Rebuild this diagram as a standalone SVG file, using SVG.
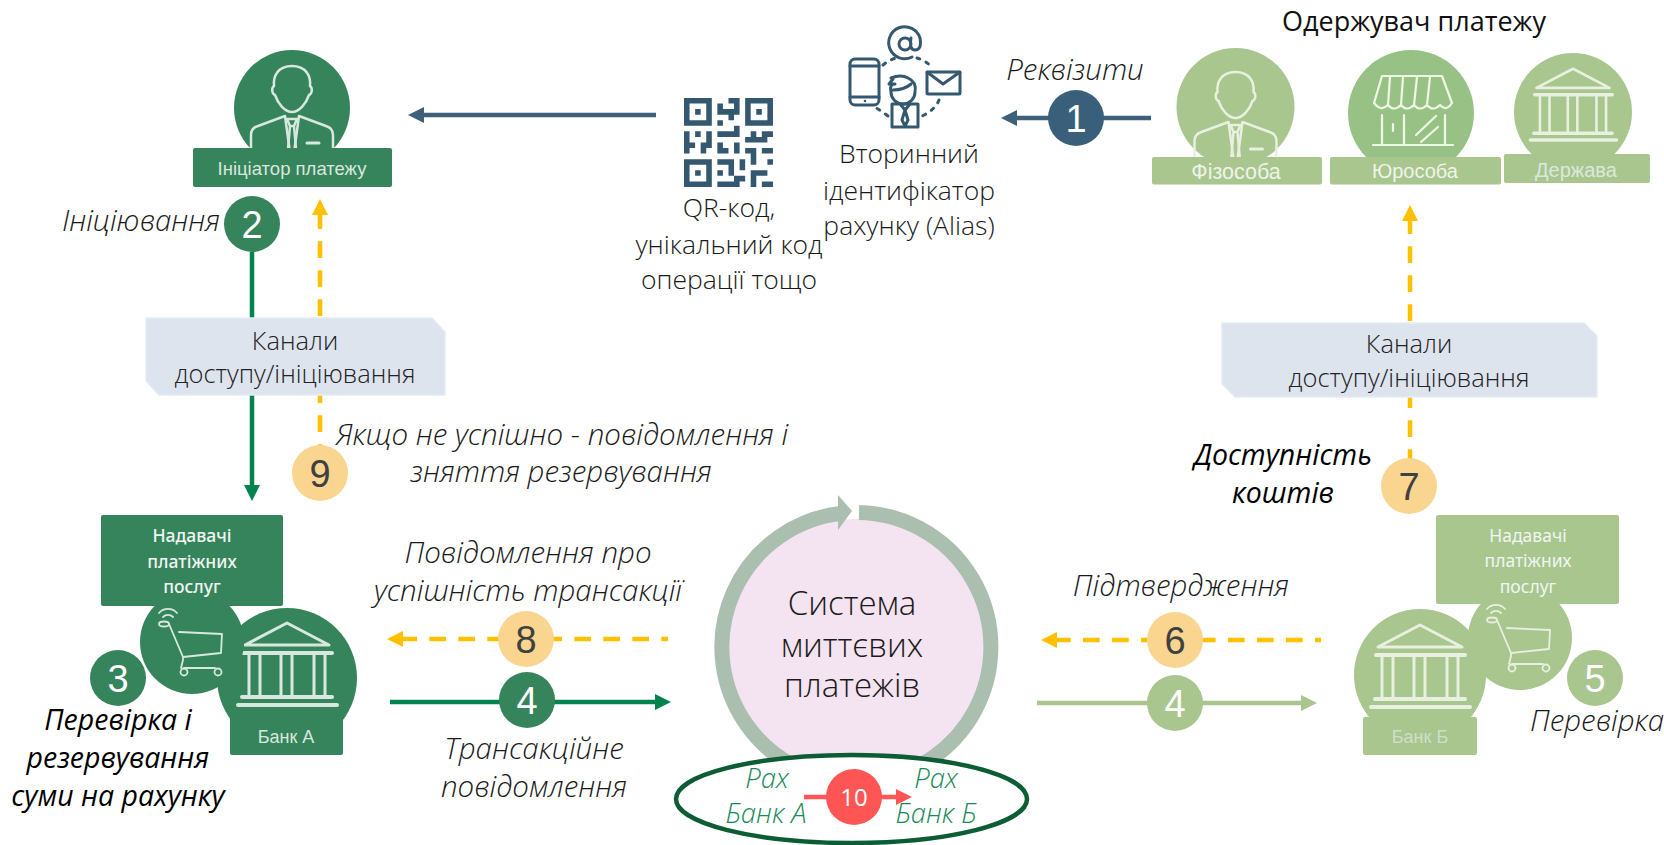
<svg xmlns="http://www.w3.org/2000/svg" xmlns:xlink="http://www.w3.org/1999/xlink" width="1664" height="845" viewBox="0 0 1664 845">
<style>
text{font-family:"Open Sans","Liberation Sans",sans-serif;fill:#1a1a1a;text-anchor:middle}
.l{font-weight:300}
.lbl{font-weight:300;font-style:italic;font-size:29.5px}
.bi{font-weight:500;font-style:italic;font-size:28.5px;fill:#000}
.main{font-weight:300;font-size:26.5px}
.ban{font-weight:300;font-size:25.5px;fill:#222}
.num{font-family:"Liberation Sans",sans-serif;font-size:38px;fill:#fff}
.num.o{fill:#404040}
.cap{font-family:"Liberation Sans",sans-serif;fill:#d8e8df}
.capl{font-family:"Liberation Sans",sans-serif;fill:#eef4e8}
.psp{font-family:"Noto Sans",sans-serif;font-size:17.5px;fill:#f0f6f2}
.gt{font-weight:300;font-style:italic;font-size:27.5px;fill:#1a8a58}
.dk{fill:#36845c}.lt{fill:#a9c68f}.yl{fill:#f9d58f}.bl{fill:#3a5f7a}
.ic{fill:none;stroke-linecap:round;stroke-linejoin:round}
.icd{stroke:#d8e8df}.icl{stroke:#e8f0e0}
.ln{fill:none;stroke-width:4.5}
.dash{stroke:#ffc000;stroke-dasharray:16.7 12.3}
.navy{fill:#34586f}
.navys{fill:none;stroke:#34586f;stroke-width:3;stroke-linecap:round;stroke-linejoin:round}
.banner{fill:#dde4ee;stroke:#e6ebf5;stroke-width:1.5}
</style>
<defs>
<marker id="hY" markerUnits="userSpaceOnUse" markerWidth="17" markerHeight="18" refX="0" refY="9" orient="auto" viewBox="0 0 17 18"><path d="M0 1L16 9L0 17z" fill="#ffc000"/></marker>
<marker id="hG" markerUnits="userSpaceOnUse" markerWidth="17" markerHeight="18" refX="0" refY="9" orient="auto" viewBox="0 0 17 18"><path d="M0 1L16 9L0 17z" fill="#00834f"/></marker>
<marker id="hL" markerUnits="userSpaceOnUse" markerWidth="17" markerHeight="18" refX="0" refY="9" orient="auto" viewBox="0 0 17 18"><path d="M0 1L16 9L0 17z" fill="#a9c68f"/></marker>
<marker id="hB" markerUnits="userSpaceOnUse" markerWidth="17" markerHeight="18" refX="0" refY="9" orient="auto" viewBox="0 0 17 18"><path d="M0 1L16 9L0 17z" fill="#3e6079"/></marker>
<marker id="hR" markerUnits="userSpaceOnUse" markerWidth="17" markerHeight="18" refX="0" refY="9" orient="auto" viewBox="0 0 17 18"><path d="M0 1L16 9L0 17z" fill="#ff5555"/></marker>
<g id="person" stroke-width="2.5">
<path d="M0-42C-14-42-19-32-18-22C-21-20-20-14-17-13C-14-4-7 4 0 4C7 4 14-4 17-13C20-14 21-20 18-22C19-32 14-42 0-42Z"/>
<path d="M-41 52V27Q-41 20-34 18L-7 8L-1 52M41 52V27Q41 20 34 18L7 8L1 52"/>
<path d="M-5 11H5L2 18H-2ZM-2 18L-5 52M2 18L5 52"/>
<path stroke-width="3" d="M15 35H27"/>
</g>
<g id="bank">
<path stroke-width="3" d="M0-52L-42-30H42Z"/>
<path stroke-width="4" d="M-44-22H45M-45 22H45M-49 30H50"/>
<path stroke-width="3" d="M-38-20V20M-27-20V20M-6-20V20M5-20V20M27-20V20M38-20V20"/>
</g>
<g id="cart" stroke-width="1.8">
<path d="M-33-29A12 12 0 0 1-15-29M-29-25A7 7 0 0 1-19-25"/>
<ellipse cx="-28" cy="-18" rx="5" ry="2.5"/>
<path d="M-23-18L-9 15L-9 18L-11 26M-13-10L30-8L29 11L-9 15M-8 26H23"/>
<circle cx="-8" cy="30" r="3.5"/><circle cx="26" cy="30" r="3.5"/>
</g>
<g id="store" stroke-width="2.2">
<path d="M-29-34H31L41-7Q35 2 29-5Q22 2 16-5Q9 2 3-5Q-4 2-10-5Q-17 2-23-5Q-30 2-37-7ZM-21-33L-23-5M-8-33L-10-5M6-33L3-5M19-33L16-5"/>
<path d="M-29 5V35M-7 5V35M34 5V35M-38 35H42M-18 14V21M5 25L25 6M10 32L27 17"/>
</g>
</defs>

<g id="system">
<circle cx="856" cy="647" r="128" fill="#f4e3f0"/>
<path d="M859 512.5A134.5 134.5 0 1 1 839 513.6" fill="none" stroke="#abbfb1" stroke-width="15"/>
<path d="M838 495L852 511L838 530z" fill="#abbfb1"/>
<text class="l" x="852" y="615" font-size="33">Система</text>
<text class="l" x="852" y="657" font-size="33">миттєвих</text>
<text class="l" x="852" y="697" font-size="33">платежів</text>
<ellipse cx="851.5" cy="799" rx="175.5" ry="44" fill="#fff" stroke="#0c5c34" stroke-width="4.5"/>
<text class="gt" x="767" y="788">Рах</text>
<text class="gt" x="766" y="823">Банк А</text>
<text class="gt" x="936" y="788">Рах</text>
<text class="gt" x="936" y="823">Банк Б</text>
</g>

<g id="connectors">
<path class="ln" stroke="#3e6079" marker-end="url(#hB)" d="M656 115H424"/>
<path class="ln" stroke="#3e6079" marker-end="url(#hB)" d="M1151 118H1017"/>
<path class="ln" stroke="#00834f" marker-end="url(#hG)" d="M252 252V485"/>
<path class="ln dash" marker-end="url(#hY)" d="M320 461V215"/>
<path class="ln dash" marker-end="url(#hY)" d="M1410 466V221"/>
<path class="ln dash" stroke-dashoffset="10" marker-end="url(#hY)" d="M668 639H403"/>
<path class="ln dash" stroke-dashoffset="10.7" marker-end="url(#hY)" d="M1321 640H1057"/>
<path class="ln" stroke="#00834f" marker-end="url(#hG)" d="M390 702H655"/>
<path class="ln" stroke="#a9c68f" marker-end="url(#hL)" d="M1037 703H1301"/>
<path class="ln" stroke="#ff5555" marker-end="url(#hR)" d="M804 797H896"/>
</g>

<g id="channels-left">
<path class="banner" d="M146 318H432L445 332V395H159L146 381Z"/>
<text class="ban" x="295" y="350">Канали</text>
<text class="ban" x="295" y="383">доступу/ініціювання</text>
</g>
<g id="channels-right">
<path class="banner" d="M1222 323H1584L1597 336V397H1235L1222 384Z"/>
<text class="ban" x="1409" y="353">Канали</text>
<text class="ban" x="1409" y="387">доступу/ініціювання</text>
</g>

<g id="initiator">
<circle class="dk" cx="292" cy="108" r="58"/>
<use href="#person" xlink:href="#person" x="292" y="108" class="ic icd"/>
<rect class="dk" x="193" y="148" width="199" height="39" rx="2"/>
<text class="cap" x="292" y="175" font-size="18.5">Ініціатор платежу</text>
</g>

<g id="qr">
<path class="navy" fill-rule="evenodd" transform="translate(684 98) scale(5.56)" d="M0 0h5v5h-5zM1 1v3h3v-3zM2 2h1v1h-1zM11 0h5v5h-5zM12 1v3h3v-3zM13 2h1v1h-1zM0 11h5v5h-5zM1 12v3h3v-3zM2 13h1v1h-1zM8 0h2v1h-2zM6 1h1v1h-1zM9 1h1v1h-1zM6 2h4v1h-4zM8 3h1v1h-1zM6 4h1v1h-1zM9 5h1v1h-1zM6 6h4v1h-4zM0 6h1v4h-1zM1 8h1v1h-1zM2 6h1v1h-1zM4 6h1v2h-1zM3 8h3v1h-3zM3 9h1v1h-1zM5 8h2v1h-2zM6 9h2v1h-2zM9 8h1v2h-1zM12 6h1v1h-1zM14 6h2v1h-2zM11 7h4v1h-4zM11 9h2v1h-2zM12 10h1v2h-1zM14 9h2v1h-2zM15 11h1v1h-1zM10 11h1v2h-1zM6 11h3v1h-3zM8 12h1v3h-1zM6 13h1v1h-1zM8 14h3v1h-3zM6 15h4v1h-4zM12 13h3v1h-3zM12 14h1v2h-1zM14 15h2v1h-2z"/>
<text class="main" x="729" y="217">QR-код,</text>
<text class="main" x="729" y="254">унікальний код</text>
<text class="main" x="729" y="289">операції тощо</text>
</g>

<g id="alias">
<rect class="navys" x="850" y="59" width="29" height="46" rx="5"/>
<path class="navys" d="M850 66H879M850 97H879"/>
<circle cx="865" cy="101" r="1.3" class="navy"/>
<path class="navys" d="M912 57A16 16 0 1 1 920 38Q922 50 915 50Q909 50 911 38M911 44A6 6 0 1 1 899 44A6 6 0 1 1 911 44"/>
<path class="navys" stroke-dasharray="3 7" d="M883 65Q890 59 897 58M917 58Q924 60 931 66M939 100Q935 110 922 116M888 116Q880 110 876 108"/>
<rect class="navys" x="927" y="72" width="33" height="22" rx="1"/>
<path class="navys" d="M927 72L943 84L960 72"/>
<path class="navys" d="M891 78Q901 74 908 78Q917 82 915 92A12 12 0 0 1 891 92Q889 84 895 84L889 84L893 79M893 90Q904 90 911 84"/>
<path class="navys" d="M892 127V104H918V127ZM900 104L905 110L910 104M905 110L902 120L905 126L908 120Z"/>
<text class="main" x="909" y="163">Вторинний</text>
<text class="main" x="909" y="200">ідентифікатор</text>
<text class="main" x="909" y="235">рахунку (Alias)</text>
</g>

<g id="payee-person">
<circle class="lt" cx="1235.5" cy="107" r="59"/>
<use href="#person" xlink:href="#person" x="1235.5" y="114" class="ic icl"/>
<rect class="lt" x="1152" y="157" width="170" height="27.5" rx="2"/>
<text class="capl" x="1236" y="179" font-size="21.5">Фізособа</text>
</g>
<g id="payee-company">
<circle cx="1411" cy="113" r="63" fill="#98c285"/>
<use href="#store" xlink:href="#store" x="1411" y="110" class="ic" stroke="#eff8e4"/>
<rect class="lt" x="1330" y="157" width="171" height="27.5" rx="2"/>
<text class="capl" x="1415" y="178" font-size="20">Юрособа</text>
</g>
<g id="payee-state">
<circle class="lt" cx="1573" cy="112" r="59"/>
<g transform="translate(1573 114) scale(.87)"><use href="#bank" xlink:href="#bank" class="ic icl"/></g>
<rect class="lt" x="1504" y="154" width="146" height="29" rx="2"/>
<text class="capl" x="1576" y="177" font-size="20" style="fill:#dbe8dc">Держава</text>
</g>
<text x="1414" y="31" font-size="27" style="fill:#111" id="payee-title">Одержувач платежу</text>

<g id="bank-a">
<circle class="dk" cx="287" cy="678" r="70"/>
<use href="#bank" xlink:href="#bank" x="287" y="675" class="ic icd"/>
<rect class="dk" x="230" y="717" width="113" height="38" rx="2"/>
<text class="cap" x="286" y="743" font-size="18">Банк А</text>
</g>
<g id="psp-a">
<circle class="dk" cx="192" cy="642" r="52"/>
<use href="#cart" xlink:href="#cart" x="192" y="642" class="ic icd"/>
<rect class="dk" x="101" y="515" width="182" height="91" rx="2"/>
<text class="psp" font-weight="500" x="192" y="542">Надавачі</text>
<text class="psp" font-weight="500" x="192" y="568">платіжних</text>
<text class="psp" font-weight="500" x="192" y="593">послуг</text>
</g>

<g id="bank-b">
<circle class="lt" cx="1420" cy="675" r="66"/>
<use href="#bank" xlink:href="#bank" x="1420" y="677" class="ic icl"/>
<rect class="lt" x="1363" y="717" width="114" height="38" rx="2"/>
<text class="capl" x="1420" y="743" font-size="18" style="fill:#cfdfc8">Банк Б</text>
</g>
<g id="psp-b">
<circle class="lt" cx="1520" cy="638" r="52"/>
<use href="#cart" xlink:href="#cart" x="1520" y="638" class="ic icl"/>
<rect class="lt" x="1436" y="515" width="183" height="89" rx="2"/>
<text class="psp" x="1528" y="542">Надавачі</text>
<text class="psp" x="1528" y="567">платіжних</text>
<text class="psp" x="1528" y="593">послуг</text>
</g>

<g id="badge-1"><circle class="bl" cx="1076" cy="118" r="28"/><text class="num" x="1076" y="132">1</text></g>
<g id="badge-2"><circle class="dk" cx="252" cy="224" r="28"/><text class="num" x="252" y="238">2</text></g>
<g id="badge-3"><circle class="dk" cx="118" cy="678" r="28"/><text class="num" x="118" y="692">3</text></g>
<g id="badge-4a"><circle class="dk" cx="527" cy="700" r="28"/><text class="num" x="527" y="714">4</text></g>
<g id="badge-4b"><circle class="lt" cx="1175" cy="703" r="28"/><text class="num" x="1175" y="717">4</text></g>
<g id="badge-5"><circle class="lt" cx="1595" cy="678" r="28"/><text class="num" x="1595" y="692">5</text></g>
<g id="badge-6"><circle class="yl" cx="1175" cy="640" r="28"/><text class="num o" x="1175" y="654">6</text></g>
<g id="badge-7"><circle class="yl" cx="1409" cy="486" r="28"/><text class="num o" x="1409" y="500">7</text></g>
<g id="badge-8"><circle class="yl" cx="526" cy="639" r="28"/><text class="num o" x="526" y="653">8</text></g>
<g id="badge-9"><circle class="yl" cx="320" cy="473" r="28"/><text class="num o" x="320" y="487">9</text></g>
<g id="badge-10"><circle cx="854" cy="797" r="28" fill="#ff5555"/><text x="854" y="806" font-size="24" style="fill:#fff">10</text></g>

<g id="labels">
<text class="lbl" x="1075" y="80">Реквізити</text>
<text class="lbl" x="141" y="231">Ініціювання</text>
<text class="lbl" x="562" y="445">Якщо не успішно - повідомлення і</text>
<text class="lbl" x="561" y="482">зняття резервування</text>
<text class="lbl" x="528" y="563">Повідомлення про</text>
<text class="lbl" x="528" y="601">успішність трансакції</text>
<text class="lbl" x="534" y="759">Трансакційне</text>
<text class="lbl" x="534" y="797">повідомлення</text>
<text class="lbl" x="1181" y="596">Підтвердження</text>
<text class="lbl" x="1597" y="731">Перевірка</text>
<text class="bi" x="118" y="730">Перевірка і</text>
<text class="bi" x="118" y="768">резервування</text>
<text class="bi" x="118" y="806">суми на рахунку</text>
<text class="bi" x="1283" y="465">Доступність</text>
<text class="bi" x="1283" y="503">коштів</text>
</g>
</svg>
